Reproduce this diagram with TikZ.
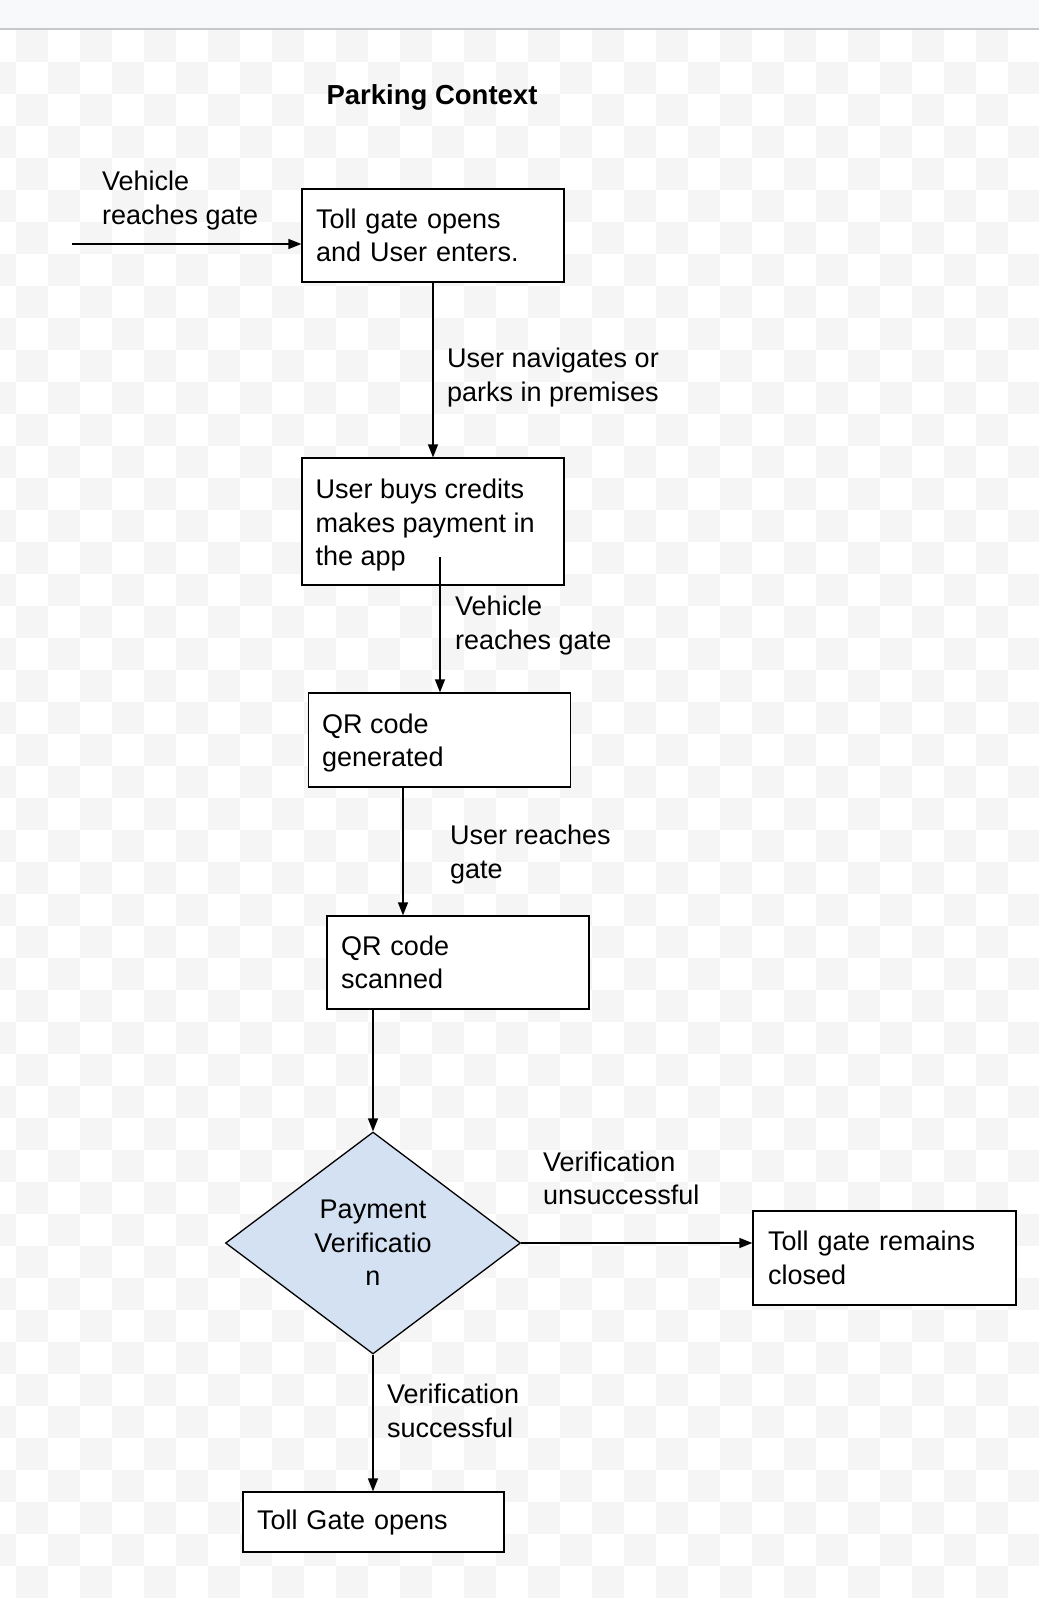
\documentclass[tikz,border=0pt]{standalone}
\usepackage{fontspec}
\setmainfont{Liberation Sans}
\usetikzlibrary{shapes.geometric,arrows.meta}
\definecolor{checkgray}{RGB}{245,245,245}
\definecolor{topband}{RGB}{248,249,250}
\definecolor{topline}{RGB}{200,200,200}
\definecolor{dfill}{RGB}{212,225,242}
\begin{document}
\begin{tikzpicture}[x=1pt,y=-1pt,
  every node/.style={font=\fontsize{27}{33.5}\selectfont},
  box/.style={draw=black,line width=1.3pt,fill=white,rectangle,inner xsep=14pt,inner ysep=0pt,align=left,text width=#1},
  box/.default=234pt,
  txt/.style={anchor=west,inner sep=0pt,align=left},
  lbl/.style={anchor=west,inner sep=0pt,align=left},
  arr/.style={draw=black,line width=1.3pt,-{Triangle[length=13pt,width=10pt]}},
  dec/.style={draw=black,line width=1.3pt,fill=dfill,diamond,inner sep=0pt,minimum width=295pt,minimum height=222pt,align=center}
]
\useasboundingbox (0,0) rectangle (1039,1598);
\clip (0,0) rectangle (1039,1598);
% background
\fill[white] (0,0) rectangle (1039,1598);
\foreach \i in {-1,...,32}{
  \foreach \j in {0,...,49}{
    \pgfmathtruncatemacro\p{mod(\i+\j+2,2)}
    \ifnum\p=0
      \fill[checkgray] ({16+32*\i},{30+32*\j}) rectangle ({48+32*\i},{62+32*\j});
    \fi
  }
}
\fill[topband] (0,0) rectangle (1039,29);
\draw[topline,line width=2pt] (0,29) -- (1039,29);

% title
\node[inner sep=0pt,font=\fontsize{27.5}{33}\selectfont\bfseries] (title) at (432,97) {Parking Context};

% boxes
\node[box,minimum width=262pt,minimum height=93pt] (b1) at (433,235.5) {Toll gate opens\\and User enters.};
\node[box,minimum width=262pt,minimum height=127pt] (b2) at (433,521.5) {};
\node[txt] (t2) at ([xshift=14pt,yshift=-4pt]b2.west) {User buys credits\\makes payment in\\the app};
\node[box,minimum width=261pt,minimum height=94pt] (b3) at (439.5,740) {};
\node[txt] (t3) at ([xshift=14pt,yshift=-3pt]b3.west) {QR code\\generated};
\node[box,minimum width=262pt,minimum height=93pt] (b4) at (458,962.5) {QR code\\scanned};
\node[dec] (d) at (373,1243) {Payment\\Verificatio\\n};
\node[box=233pt,minimum width=263pt,minimum height=94pt,inner xsep=15pt] (b5) at (884.5,1258) {Toll gate remains\\closed};
\node[box=233pt,minimum width=261pt,minimum height=60pt] (b6) at (373.5,1522) {Toll Gate opens};

% connectors
\coordinate (in) at (72,244);
\draw[arr] (in) -- (in -| b1.west);
\draw[arr] (b1.south) -- (b2.north);
\coordinate (s2) at (440,557);
\draw[arr] (s2) -- (s2 |- b3.north);
\coordinate (s3) at (403,787);
\draw[arr] (s3) -- (s3 |- b4.north);
\draw[arr] (b4.south -| d.north) -- (d.north);
\draw[arr] (d.east) -- (d.east -| b5.west);
\draw[arr] (d.south) -- (d.south |- b6.north);

% labels
\node[lbl] (l0) at (102,200.5) {Vehicle\\reaches gate};
\node[lbl] (l1) at (447,377.5) {User navigates or\\parks in premises};
\node[lbl] (l2) at (455,625.5) {Vehicle\\reaches gate};
\node[lbl] (l3) at (450,854.5) {User reaches\\gate};
\node[lbl] (l4) at (543,1178.5) {Verification\\unsuccessful};
\node[lbl] (l5) at (387,1411) {Verification\\successful};
\end{tikzpicture}
\end{document}
